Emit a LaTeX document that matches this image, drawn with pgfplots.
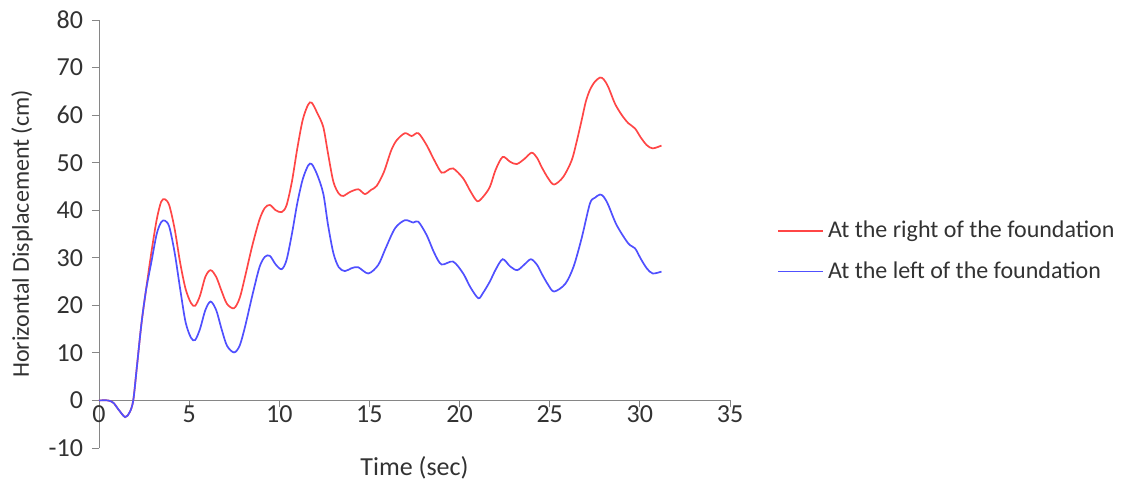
\documentclass[border=0pt]{standalone}
\usepackage{fontspec}
\setmainfont{Carlito}
\usepackage{pgfplots}
\pgfplotsset{compat=1.18}
\definecolor{redline}{RGB}{255,70,70}
\definecolor{blueline}{RGB}{80,80,255}
\definecolor{axgray}{RGB}{134,134,134}
\definecolor{txt}{RGB}{50,50,50}

\begin{document}
\begin{tikzpicture}
\path[use as bounding box] (-49.5pt,-17.5pt) rectangle (511pt,224pt);
\begin{axis}[
    scale only axis,
    width=315.5pt, height=214pt,
    xmin=0, xmax=35, ymin=-10, ymax=80,
    xtick={0,5,...,35}, ytick={-10,0,...,80},
    axis x line=middle, axis y line=left,
    axis line style={axgray, -},
    tick style={axgray, thin},
    major tick length=3.5pt,
    tick align=outside,
    hide obscured x ticks=false, hide obscured y ticks=false,
    /pgf/number format/assume math mode=true,
    ticklabel style={font=\fontsize{13}{14}\selectfont, text=txt},
    x tick label style={yshift=4.5pt},
    y tick label style={xshift=-1pt},
    xlabel={Time (sec)},
    ylabel={Horizontal Displacement (cm)},
    xlabel style={font=\fontsize{13}{14}\selectfont, text=txt,
        at={(axis description cs:0.5,-0.004)}, anchor=north},
    ylabel style={font=\fontsize{12}{13}\selectfont, text=txt,
        at={(axis description cs:-0.122,0.5)}, anchor=center},
    legend style={at={(1.065,0.46)}, anchor=west, draw=none, fill=none,
        font=\fontsize{12}{13}\selectfont, text=txt, row sep=6.5pt},
    legend cell align=left,
    legend image code/.code={\draw[#1] (0pt,0pt) -- (22.5pt,0pt);},
    clip=false,
]
\addplot[redline, line width=0.85pt, smooth, tension=0.5] coordinates {
(0,0) (0.5,0) (0.8,-0.5) (1.1,-2) (1.45,-3.5) (1.7,-2.5) (1.9,0) (2.1,7) (2.35,16) (2.6,23)
(2.9,31) (3.2,38) (3.45,41.8) (3.66,42.3) (3.9,41) (4.2,36) (4.5,29) (4.8,23.5) (5.1,20.5)
(5.33,19.9) (5.6,22) (5.9,26) (6.19,27.4) (6.5,26) (6.8,23) (7.1,20.3) (7.49,19.4) (7.8,21.5)
(8.1,26) (8.5,32.5) (8.9,38) (9.2,40.5) (9.48,41.1) (9.8,40) (10.13,39.6) (10.4,41) (10.7,46)
(11.0,53) (11.3,59) (11.6,62.2) (11.8,62.6) (12.1,60.5) (12.44,57.5) (12.7,52) (13.0,46)
(13.3,43.5) (13.55,43.0) (13.9,43.8) (14.38,44.4) (14.75,43.4) (15.1,44.3) (15.4,45.1)
(15.8,48) (16.2,52.5) (16.51,54.7) (16.97,56.2) (17.34,55.6) (17.71,56.2) (18.17,53.7)
(18.6,50.5) (19.0,47.9) (19.3,48.3) (19.64,48.8) (20.2,46.7) (20.6,44) (20.98,41.9)
(21.3,42.8) (21.68,44.9) (22.0,48.5) (22.39,51.2) (22.8,50.2) (23.17,49.7) (23.6,50.8)
(24.0,52.1) (24.3,51) (24.55,49.1) (24.9,46.8) (25.24,45.4) (25.75,47.0) (26.22,50.5)
(26.5,54.5) (26.77,58.9) (27.0,62.8) (27.23,65.3) (27.5,67) (27.79,67.9) (28.0,67.5)
(28.25,65.9) (28.62,62.4) (29.0,60.0) (29.36,58.3) (29.73,57.2) (30.05,55.3) (30.38,53.7)
(30.71,53.0) (31.2,53.6)
};
\addlegendentry{At the right of the foundation}
\addplot[blueline, line width=0.85pt, smooth, tension=0.5] coordinates {
(0,0) (0.5,0) (0.8,-0.5) (1.1,-2) (1.45,-3.5) (1.7,-2.5) (1.9,0) (2.1,7) (2.35,16) (2.6,23)
(2.9,29) (3.2,35) (3.45,37.5) (3.66,37.8) (3.9,36.5) (4.2,31) (4.5,23.5) (4.8,16.5) (5.1,13.2)
(5.33,12.7) (5.6,15) (5.9,19) (6.19,20.8) (6.5,19) (6.8,15) (7.1,11.5) (7.49,10.1) (7.8,11.5)
(8.1,15.5) (8.5,22) (8.9,28) (9.2,30.2) (9.48,30.4) (9.8,28.6) (10.13,27.6) (10.4,29.5)
(10.7,35) (11.0,41.5) (11.3,46.5) (11.6,49.4) (11.8,49.7) (12.1,47.5) (12.44,43.5) (12.7,37)
(13.0,31) (13.3,28) (13.64,27.2) (14.0,27.8) (14.38,28.0) (14.94,26.7) (15.49,28.5) (15.9,32)
(16.42,36.2) (16.97,37.9) (17.43,37.4) (17.71,37.6) (18.17,34.8) (18.6,31) (19.0,28.6)
(19.64,29.2) (20.2,26.7) (20.6,23.8) (21.04,21.5) (21.3,22.6) (21.68,25.0) (22.0,27.5)
(22.39,29.7) (22.8,28.2) (23.2,27.4) (23.6,28.6) (23.96,29.7) (24.3,28.5) (24.55,26.7)
(24.9,24.4) (25.24,22.9) (25.86,24.5) (26.32,28.1) (26.77,34.1) (27.23,41.4) (27.5,42.6)
(27.79,43.3) (28.0,42.8) (28.25,41.1) (28.71,36.9) (29.36,33.0) (29.73,32.0) (30.05,29.8)
(30.38,27.8) (30.71,26.7) (31.2,27.1)
};
\addlegendentry{At the left of the foundation}
\end{axis}
\end{tikzpicture}
\end{document}
